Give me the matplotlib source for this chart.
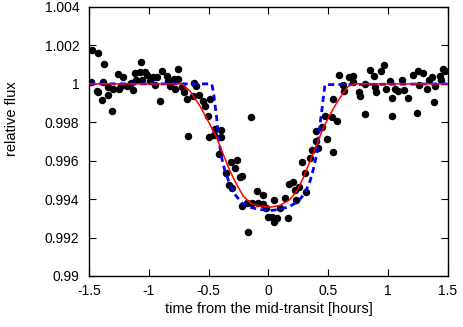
import matplotlib
matplotlib.use('Agg')
import matplotlib.pyplot as plt

plt.rcParams['font.family'] = ['Liberation Sans', 'DejaVu Sans']

# observed photometry (time in hours, relative flux)
obs_time = [-1.479, -1.425, -1.375, -1.483, -1.436, -1.422, -1.383, -1.391, -1.341, -1.344,
            -1.310, -1.297, -1.258, -1.249, -1.233, -1.213, -1.185, -1.152, -1.130, -1.116,
            -1.103, -1.074, -1.066, -1.061, -1.032, -1.015, -0.994, -0.968, -0.949, -0.929,
            -0.903, -0.890, -0.851, -0.837, -0.819, -0.790, -0.760, -0.754, -0.781, -0.719,
            -0.706, -0.677, -0.669, -0.635, -0.623, -0.602, -0.578, -0.547, -0.531, -0.506,
            -0.495, -0.485, -0.455, -0.447, -0.399, -0.397, -0.411, -0.149,
            -0.358, -0.328, -0.308, -0.316, -0.266, -0.276, -0.242, -0.221, -0.221, -0.182,
            -0.140, -0.088, -0.099, -0.043, -0.046, -0.018, -0.007, -0.174, 0.027, 0.046,
            0.075, 0.046, 0.099, 0.138, 0.163, 0.175, 0.207, 0.221, 0.230, 0.255,
            0.313, 0.276, 0.308, 0.344, 0.361, 0.397, 0.416, 0.393, 0.445, 0.486,
            0.539, 0.472, 0.528, 0.572,
            0.537, 0.592, 0.620, 0.631, 0.675, 0.709, 0.704, 0.760, 0.765, 0.806,
            0.806, 0.846, 0.883, 0.890, 0.898, 0.938, 0.963, 0.978, 1.013, 1.030,
            1.032, 1.061, 1.081, 1.113, 1.130, 1.163, 1.205, 1.244, 1.252, 1.255,
            1.291, 1.325, 1.339, 1.364, 1.383, 1.391, 1.433, 1.442, 1.456, 1.475]
obs_flux = [1.00174, 1.00161, 1.00104, 1.00009, 0.99965, 0.99955, 1.00008, 0.99914, 0.99943, 0.99983,
            0.99857, 0.99972, 1.00049, 0.99972, 0.99990, 1.00036, 0.99987, 1.00004, 0.99969, 1.00057,
            1.00018, 1.00064, 1.00115, 1.00018, 1.00064, 1.00047, 1.00013, 1.00035, 0.99995, 1.00035,
            0.99909, 1.00069, 1.00039, 1.00016, 0.99990, 1.00023, 1.00077, 1.00023, 0.99972, 0.99984,
            0.99958, 0.99922, 0.99726, 0.99938, 1.00004, 0.99987, 0.99940, 0.99913, 0.99885, 0.99833,
            0.99724, 0.99923, 0.99732, 0.99763, 0.99722, 0.99761, 0.99636, 0.99827,
            0.99535, 0.99473, 0.99457, 0.99592, 0.99604, 0.99561, 0.99516, 0.99519, 0.99365, 0.99382,
            0.99379, 0.99381, 0.99440, 0.99422, 0.99375, 0.99353, 0.99309, 0.99228, 0.99306, 0.99283,
            0.99300, 0.99393, 0.99355, 0.99405, 0.99304, 0.99480, 0.99487, 0.99448, 0.99395, 0.99461,
            0.99438, 0.99594, 0.99537, 0.99613, 0.99655, 0.99702, 0.99665, 0.99756, 0.99775, 0.99714,
            0.99643, 0.99833, 0.99828, 0.99806,
            0.99920, 1.00047, 0.99995, 0.99965, 1.00038, 1.00042, 1.00012, 0.99960, 0.99938, 1.00000,
            0.99843, 1.00071, 1.00039, 0.99984, 0.99960, 1.00069, 1.00099, 0.99972, 1.00017, 0.99926,
            0.99833, 0.99972, 0.99965, 1.00021, 0.99967, 0.99926, 1.00047, 0.99847, 1.00069, 0.99995,
            1.00059, 0.99972, 1.00021, 1.00038, 0.99908, 0.99990, 1.00042, 1.00021, 1.00077, 1.00069]

# smooth (limb-darkened) model, red
fit_time = [-1.5, -0.723, -0.656, -0.572, -0.489, -0.433, -0.378, -0.322, -0.266, -0.211,
            -0.155, -0.071, 0.013, 0.096, 0.180, 0.236, 0.291, 0.347, 0.403, 0.458,
            0.514, 0.570, 0.625, 0.667, 0.723, 1.5]
fit_flux = [1.0, 1.0, 0.99962, 0.99884, 0.99788, 0.99719, 0.99632, 0.99546, 0.99476, 0.99416,
            0.99381, 0.99363, 0.99358, 0.99367, 0.99398, 0.99442, 0.99511, 0.99598, 0.99684, 0.99771,
            0.99840, 0.99901, 0.99953, 0.99988, 1.0, 1.0]

# sharper model, blue dashed
box_time = [-1.5, -0.475, -0.461, -0.447, -0.433, -0.420, -0.405, -0.391, -0.364, -0.322,
            -0.280, -0.224, -0.155, -0.071, 0.013, 0.096, 0.180, 0.249, 0.305, 0.347,
            0.374, 0.403, 0.416, 0.430, 0.445, 0.458, 0.472, 1.5]
box_flux = [1.0, 1.0, 0.99962, 0.99892, 0.99823, 0.99736, 0.99667, 0.99615, 0.99546, 0.99476,
            0.99424, 0.99381, 0.99358, 0.99346, 0.99341, 0.99346, 0.99363, 0.99389, 0.99432, 0.99494,
            0.99554, 0.99632, 0.99702, 0.99788, 0.99858, 0.99927, 0.99996, 1.0]

xticks = [-1.5, -1, -0.5, 0, 0.5, 1, 1.5]
xtick_labels = ['-1.5', '-1', '-0.5', '0', '0.5', '1', '1.5']
yticks = [0.99, 0.992, 0.994, 0.996, 0.998, 1.0, 1.002, 1.004]
ytick_labels = ['0.99', '0.992', '0.994', '0.996', '0.998', '1', '1.002', '1.004']

fig = plt.figure(figsize=(4.63, 3.27), dpi=100)
ax = fig.add_axes([0.1922, 0.156, 0.7754, 0.8226])

ax.plot(obs_time, obs_flux, 'o', color='black', markersize=5.4, markeredgewidth=0, zorder=2)
ax.plot(box_time, box_flux, color='#0000ff', linestyle=(0, (2.2, 1.5)), linewidth=2.0, zorder=3)
ax.plot(fit_time, fit_flux, color='#ff0000', linewidth=1.1, zorder=4)

ax.set_xlim(-1.5, 1.5)
ax.set_ylim(0.99, 1.004)
ax.set_xticks(xticks)
ax.set_xticklabels(xtick_labels)
ax.set_yticks(yticks)
ax.set_yticklabels(ytick_labels)
ax.tick_params(direction='in', length=5, width=0.8, top=True, right=True, labelsize=10)
ax.tick_params(axis='x', pad=6)
ax.tick_params(axis='y', pad=7)
for sp in ax.spines.values():
    sp.set_linewidth(1.0)

ax.set_xlabel('time from the mid-transit [hours]', fontsize=10.5, labelpad=3)
ax.set_ylabel('relative flux', fontsize=10.5)
ax.yaxis.set_label_coords(-0.195, 0.585)

fig.savefig('out.png', dpi=100)
